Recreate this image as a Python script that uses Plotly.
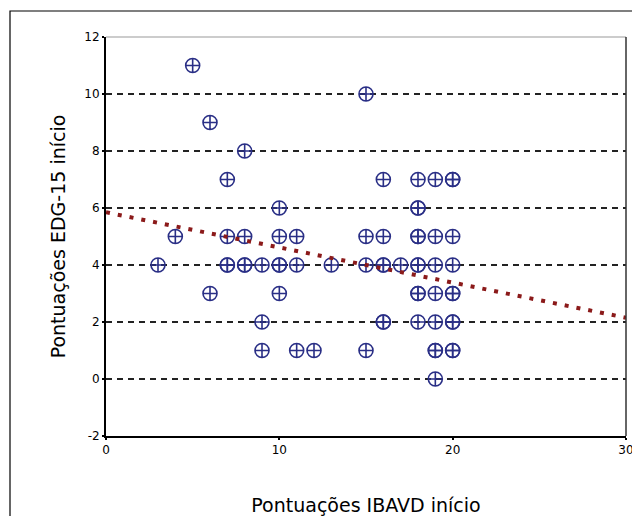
import plotly.graph_objects as go

# Data (duplicates reflect overlapping points)
ibavd = [5, 6, 6, 7, 7, 7, 7, 8, 8, 8, 8, 3, 4, 9, 9, 9,
         10, 10, 10, 10, 10, 11, 11, 11, 12, 13,
         15, 15, 15, 15, 16, 16, 16, 16, 16, 16, 17,
         18, 18, 18, 18, 18, 18, 18, 18, 18, 18,
         19, 19, 19, 19, 19, 19, 19, 19,
         20, 20, 20, 20, 20, 20, 20, 20, 20, 20]
edg = [11, 9, 3, 7, 5, 4, 4, 8, 5, 4, 4, 4, 5, 4, 2, 1,
       6, 5, 4, 4, 3, 5, 4, 1, 1, 4,
       10, 5, 4, 1, 7, 5, 4, 4, 2, 2, 4,
       7, 6, 6, 5, 5, 4, 4, 3, 3, 2,
       7, 5, 4, 3, 2, 1, 1, 0,
       7, 7, 5, 4, 3, 3, 2, 2, 1, 1]

trend_x = [0, 30]
trend_y = [5.85, 2.15]

x_ticks = [0, 10, 20, 30]
y_ticks = [-2, 0, 2, 4, 6, 8, 10, 12]

fig = go.Figure()
fig.add_trace(go.Scatter(
    x=ibavd, y=edg, mode="markers",
    marker=dict(symbol="circle-cross-open", size=14, color="#2A2F86",
                line=dict(width=1.6, color="#2A2F86")),
    showlegend=False, cliponaxis=False))
fig.add_trace(go.Scatter(
    x=trend_x, y=trend_y, mode="lines",
    line=dict(color="#8B1A1A", width=4, dash="4px,8px"),
    showlegend=False))

font_main = "DejaVu Sans"

# The page adds an 8px body margin, so the figure is sized to fit the window
W, H = 632, 508
L, R, T, B = 98, 14, 29, 80
pw, ph = W - L - R, H - T - B

fig.update_layout(
    width=W, height=H,
    margin=dict(l=L, r=R, t=T, b=B),
    paper_bgcolor="white", plot_bgcolor="white",
    font=dict(family=font_main, color="black"),
    xaxis=dict(range=[0, 30], tickvals=x_ticks, ticktext=[str(v) for v in x_ticks],
               automargin=False,
               showgrid=False, zeroline=False,
               showline=True, linecolor="black", linewidth=2,
               ticks="outside", ticklen=2, tickwidth=2, tickcolor="black",
               tickfont=dict(size=12),
               title=dict(text="Pontuações IBAVD início", font=dict(size=19),
                          standoff=42)),
    yaxis=dict(range=[-2, 12], tickvals=y_ticks, ticktext=[str(v) for v in y_ticks],
               automargin=False,
               showgrid=True, gridcolor="#222222", gridwidth=1.5, griddash="6px,5px",
               zeroline=False,
               showline=True, linecolor="black", linewidth=2,
               ticks="outside", ticklen=2, tickwidth=2, tickcolor="black",
               tickfont=dict(size=12),
               title=dict(text="Pontuações EDG-15 início", font=dict(size=19),
                          standoff=14)),
    shapes=[
        dict(type="line", xref="paper", yref="paper", x0=1, x1=1, y0=0, y1=1,
             line=dict(color="#333333", width=1.5)),
        dict(type="line", xref="paper", yref="paper", x0=0, x1=1, y0=1, y1=1,
             line=dict(color="#999999", width=1), layer="below"),
        dict(type="rect", xref="paper", yref="paper",
             x0=(2 - L) / pw, x1=(630 - L) / pw,
             y0=(H - B - 530) / ph, y1=(H - B - 3) / ph,
             line=dict(color="black", width=1.2), layer="below"),
    ],
)

fig.write_html("out.html")
